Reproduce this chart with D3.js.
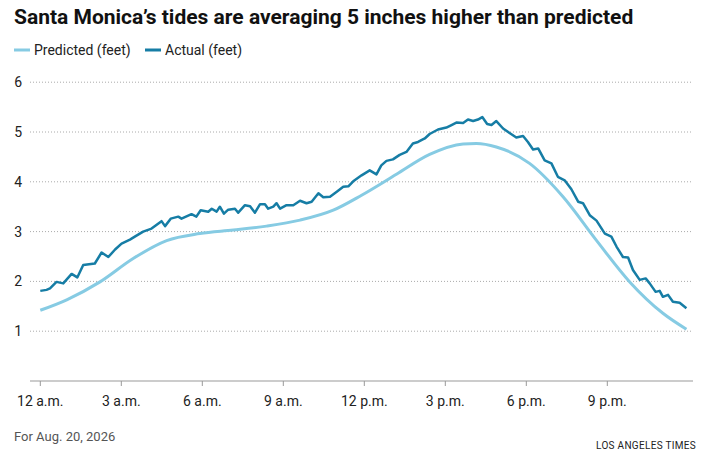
<!DOCTYPE html>
<html><head><meta charset="utf-8">
<script src="https://cdn.jsdelivr.net/npm/d3@7"></script>
<style>
body{margin:0;background:#fff;font-family:"Liberation Sans Narrow","Roboto",sans-serif;}
</style></head>
<body><svg id="chart" width="726" height="470"></svg>
<script>
// horas desde medianoche / pies
const predHours = [0,0.98,2.21,3.44,4.68,5.91,7.15,8.38,9.62,10.85,11.9,13.19,14.42,15.66,16.15,16.89,18.12,19.36,20.59,21.83,23.06,23.93];
const predFeet  = [1.42,1.63,1.99,2.46,2.82,2.96,3.03,3.11,3.23,3.43,3.73,4.15,4.55,4.76,4.77,4.70,4.37,3.70,2.83,1.99,1.36,1.04];

const actHours = [0,.23,.36,.6,.85,1.16,1.37,1.59,2.02,2.27,2.52,2.77,3.01,3.32,3.5,3.81,4.12,4.49,4.62,4.83,5.11,5.23,5.6,5.78,5.94,6.22,6.35,6.53,6.65,6.8,6.96,7.21,7.33,7.58,7.77,7.95,8.14,8.32,8.44,8.63,8.75,8.88,9.12,9.37,9.62,9.86,10.05,10.3,10.48,10.73,10.98,11.22,11.41,11.59,11.9,
  12.2,12.45,12.63,12.82,13.06,13.31,13.56,13.8,13.99,14.24,14.42,14.73,15.04,15.23,15.41,15.66,15.84,16.03,16.21,16.37,16.55,16.71,16.89,17.14,17.38,17.63,17.88,18.06,18.25,18.44,18.68,18.93,19.17,19.42,19.67,19.92,20.1,20.35,20.6,20.91,21.15,21.34,21.58,21.77,21.95,22.2,22.42,22.57,22.79,22.94,23.06,23.25,23.43,23.68,23.93];
const actFeet  = [1.81,1.83,1.86,1.99,1.96,2.15,2.08,2.33,2.36,2.58,2.49,2.64,2.76,2.84,2.90,3.0,3.06,3.21,3.11,3.26,3.30,3.26,3.35,3.30,3.43,3.40,3.46,3.40,3.50,3.36,3.44,3.46,3.38,3.53,3.51,3.38,3.55,3.55,3.46,3.50,3.57,3.46,3.53,3.53,3.62,3.57,3.60,3.77,3.69,3.70,3.80,3.90,3.91,4.01,4.13,
  4.23,4.15,4.33,4.42,4.45,4.54,4.60,4.77,4.80,4.87,4.96,5.05,5.09,5.14,5.19,5.18,5.25,5.22,5.25,5.30,5.16,5.14,5.22,5.07,4.98,4.89,4.92,4.80,4.65,4.67,4.43,4.37,4.10,4.03,3.85,3.60,3.57,3.33,3.22,2.96,2.90,2.70,2.49,2.48,2.23,2.03,2.06,1.96,1.79,1.81,1.69,1.73,1.59,1.57,1.46];

const yTicks = [1,2,3,4,5,6];
const xTicks = [0,3,6,9,12,15,18,21];
const xLabels = ["12 a.m.","3 a.m.","6 a.m.","9 a.m.","12 p.m.","3 p.m.","6 p.m.","9 p.m."];

const svg = d3.select('#chart');
const x = d3.scaleLinear().domain([0,24]).range([40.3,688.3]);
const y = d3.scaleLinear().domain([0,6]).range([381,82.2]);

// titulo
svg.append('text').attr('x',14).attr('y',24).attr('font-size',21).attr('font-weight','bold')
  .attr('fill','#111').text('Santa Monica’s tides are averaging 5 inches higher than predicted');

// leyenda
const leg = [{t:'Predicted (feet)',c:'#86cbe3',x:14},{t:'Actual (feet)',c:'#167da5',x:145}];
leg.forEach(d=>{
  svg.append('line').attr('x1',d.x).attr('x2',d.x+16).attr('y1',50).attr('y2',50).attr('stroke',d.c).attr('stroke-width',3);
  svg.append('text').attr('x',d.x+20).attr('y',55).attr('font-size',14).attr('fill','#222').text(d.t);
});

// grid
svg.selectAll('.grid').data(yTicks).join('line')
  .attr('x1',30).attr('x2',693).attr('y1',d=>y(d)).attr('y2',d=>y(d))
  .attr('stroke','#aaa').attr('stroke-dasharray','1,2');
svg.selectAll('.yl').data(yTicks).join('text')
  .attr('x',22).attr('y',d=>y(d)+5).attr('text-anchor','end').attr('font-size',14).attr('fill','#222').text(d=>d);

// eje x
svg.append('line').attr('x1',30).attr('x2',693).attr('y1',381).attr('y2',381).attr('stroke','#999');
svg.selectAll('.xt').data(xTicks).join('line')
  .attr('x1',d=>x(d)).attr('x2',d=>x(d)).attr('y1',381).attr('y2',386).attr('stroke','#999');
svg.selectAll('.xl').data(xTicks).join('text')
  .attr('x',d=>x(d)).attr('y',406).attr('text-anchor','middle').attr('font-size',14).attr('fill','#222')
  .text((d,i)=>xLabels[i]);

const line = d3.line().x(d=>x(d[0])).y(d=>y(d[1]));
svg.append('path').datum(d3.zip(predHours,predFeet))
  .attr('d',line.curve(d3.curveMonotoneX)).attr('fill','none').attr('stroke','#86cbe3').attr('stroke-width',3);
svg.append('path').datum(d3.zip(actHours,actFeet))
  .attr('d',d3.line().x(d=>x(d[0])).y(d=>y(d[1]))).attr('fill','none').attr('stroke','#167da5').attr('stroke-width',2.5)
  .attr('stroke-linejoin','round');

svg.append('text').attr('x',14).attr('y',441).attr('font-size',13).attr('fill','#555').text('For Aug. 20, 2026');
svg.append('text').attr('x',696).attr('y',449).attr('text-anchor','end').attr('font-size',10).attr('fill','#222')
  .attr('letter-spacing','0.3').text('LOS ANGELES TIMES');
</script></body></html>
